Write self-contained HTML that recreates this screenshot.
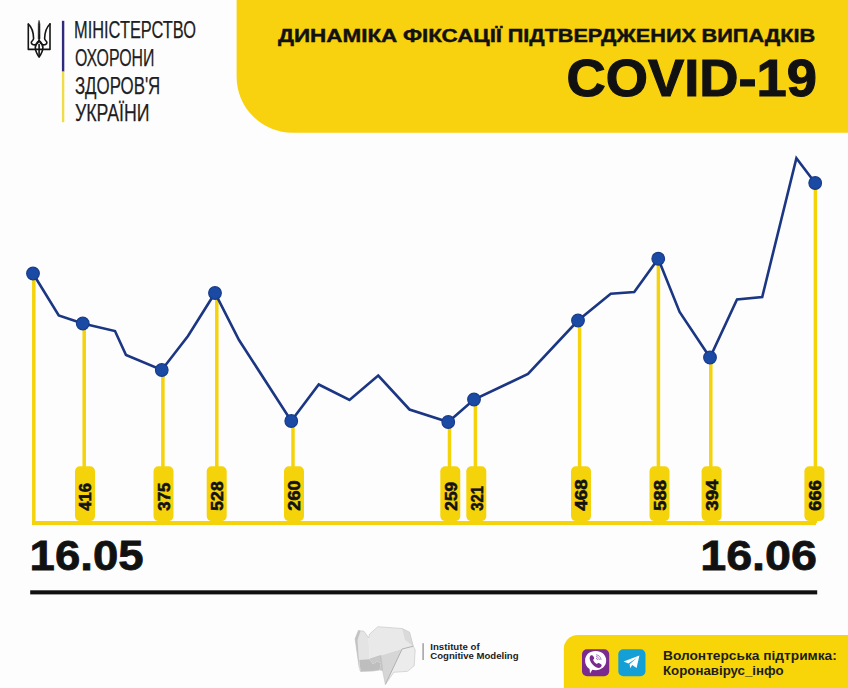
<!DOCTYPE html>
<html lang="uk">
<head>
<meta charset="utf-8">
<title>Динаміка фіксації підтверджених випадків COVID-19</title>
<style>
html,body{margin:0;padding:0;background:#FEFDFE;}
body{width:848px;height:688px;overflow:hidden;position:relative;font-family:"Liberation Sans",Arial,sans-serif;}
svg{position:absolute;left:0;top:0;display:block;}
</style>
</head>
<body>
<svg width="848" height="688" viewBox="0 0 848 688">
  <rect x="0" y="0" width="848" height="688" fill="#FEFDFE"/>

  <!-- header yellow panel -->
  <path d="M236.6,0 H848 V132.7 H292.6 A56,56 0 0 1 236.6,76.7 Z" fill="#F8D10F"/>

  <!-- ministry logo -->
  <g id="trident" fill="none" stroke="#151515" stroke-width="1.6" stroke-linejoin="round" stroke-linecap="round">
    <path d="M28.3,24.1 V49.4 H50 V23.9"/>
    <path d="M28.4,24.2 C31,26.5 33.4,32 33.6,38.6 C33.6,40.4 31.2,41 31.3,42.6 C31.4,44.4 33.6,45.2 35.4,44.8 C37,44.4 38.2,42.4 39.1,40.6"/>
    <path d="M49.9,24 C47.3,26.5 44.8,32 44.6,38.6 C44.6,40.4 47,41 46.9,42.6 C46.8,44.4 44.6,45.2 42.8,44.8 C41.2,44.4 40,42.4 39.1,40.6"/>
    <path d="M39.1,20.7 L39.9,24 L40,38.6 L39.1,40.6 L38.2,38.6 L38.3,24 Z" fill="#151515" stroke-width="0.6"/>
    <path d="M39.1,40.6 C36.8,42.6 35.3,45 35.3,47.5 C35.3,51 37,54 39.1,57.1 C41.2,54 42.9,51 42.9,47.5 C42.9,45 41.4,42.6 39.1,40.6 Z"/>
    <path d="M39.1,44.6 V55.5"/>
  </g>
  <rect x="61.9" y="20.8" width="2.4" height="50.8" fill="#2F2A7C"/>
  <rect x="61.9" y="71.6" width="2.4" height="50.6" fill="#EEDC48"/>
  <g font-family="Liberation Sans, Arial, sans-serif" font-size="24" fill="#1e1e1e" stroke="#1e1e1e" stroke-width="0.25">
    <text x="74" y="38.4" textLength="122" lengthAdjust="spacingAndGlyphs">МІНІСТЕРСТВО</text>
    <text x="74.9" y="66" textLength="79.6" lengthAdjust="spacingAndGlyphs">ОХОРОНИ</text>
    <text x="74.9" y="93.5" textLength="85.4" lengthAdjust="spacingAndGlyphs">ЗДОРОВ'Я</text>
    <text x="74.9" y="121" textLength="74.6" lengthAdjust="spacingAndGlyphs">УКРАЇНИ</text>
  </g>

  <!-- header titles -->
  <g font-size="18.9" font-weight="bold" fill="#111" stroke="#111" stroke-width="0.45">
    <text x="278.00" y="42.1" textLength="119.28" lengthAdjust="spacingAndGlyphs">ДИНАМІКА</text>
    <text x="402.94" y="42.1" textLength="99.11" lengthAdjust="spacingAndGlyphs">ФІКСАЦІЇ</text>
    <text x="507.70" y="42.1" textLength="188.16" lengthAdjust="spacingAndGlyphs">ПІДТВЕРДЖЕНИХ</text>
    <text x="701.50" y="42.1" textLength="113.80" lengthAdjust="spacingAndGlyphs">ВИПАДКІВ</text>
  </g>
  <text x="566.6" y="95.6" font-size="51.6" font-weight="bold" fill="#111" stroke="#111" stroke-width="1.1" textLength="250.4" lengthAdjust="spacingAndGlyphs">COVID-19</text>

  <!-- chart -->
  <g id="chart">
    <rect x="32.05" y="273.50" width="3.5" height="249.50" fill="#F5D30B"/>
    <rect x="82.45" y="323.50" width="3.5" height="199.50" fill="#F5D30B"/>
    <rect x="161.15" y="370.00" width="3.5" height="153.00" fill="#F5D30B"/>
    <rect x="215.05" y="293.00" width="3.5" height="230.00" fill="#F5D30B"/>
    <rect x="291.25" y="421.00" width="3.5" height="102.00" fill="#F5D30B"/>
    <rect x="447.75" y="422.00" width="3.5" height="101.00" fill="#F5D30B"/>
    <rect x="473.65" y="399.50" width="3.5" height="123.50" fill="#F5D30B"/>
    <rect x="577.85" y="320.50" width="3.5" height="202.50" fill="#F5D30B"/>
    <rect x="656.65" y="258.75" width="3.5" height="264.25" fill="#F5D30B"/>
    <rect x="709.05" y="357.50" width="3.5" height="165.50" fill="#F5D30B"/>
    <rect x="813.65" y="183.00" width="3.5" height="340.00" fill="#F5D30B"/>
    <rect x="32" y="521" width="784" height="4" fill="#F5D30B"/>
    <rect x="75.00" y="466.2" width="20" height="54.9" rx="5" ry="5" fill="#F5D30B"/>
    <rect x="153.50" y="466.2" width="20" height="54.9" rx="5" ry="5" fill="#F5D30B"/>
    <rect x="206.70" y="466.2" width="20" height="54.9" rx="5" ry="5" fill="#F5D30B"/>
    <rect x="284.00" y="466.2" width="20" height="54.9" rx="5" ry="5" fill="#F5D30B"/>
    <rect x="440.30" y="466.2" width="20" height="54.9" rx="5" ry="5" fill="#F5D30B"/>
    <rect x="466.30" y="466.2" width="20" height="54.9" rx="5" ry="5" fill="#F5D30B"/>
    <rect x="571.00" y="466.2" width="20" height="54.9" rx="5" ry="5" fill="#F5D30B"/>
    <rect x="649.50" y="466.2" width="20" height="54.9" rx="5" ry="5" fill="#F5D30B"/>
    <rect x="701.60" y="466.2" width="20" height="54.9" rx="5" ry="5" fill="#F5D30B"/>
    <rect x="804.40" y="466.2" width="20" height="54.9" rx="5" ry="5" fill="#F5D30B"/>
    <polyline points="33,273.5 58.75,315.5 82.75,323.5 115,331 126,355 161.75,370 188,336 215,293 239,340 291.25,421 318.75,384.5 349.5,400 378.25,375.5 409.5,409.5 448.25,422 474,399.5 528,374 578,320.5 610.75,293.75 634.25,292 658.25,258.75 679.6,312 710,357.5 737,299.5 762.2,297 796.4,158.2 815.2,183" fill="none" stroke="#1B3783" stroke-width="2.6" stroke-linejoin="miter" stroke-linecap="round"/>
    <circle cx="33" cy="273.5" r="6.35" fill="#1A4AA4" stroke="#183B89" stroke-width="1.1"/>
    <circle cx="82.75" cy="323.5" r="6.35" fill="#1A4AA4" stroke="#183B89" stroke-width="1.1"/>
    <circle cx="161.75" cy="370" r="6.35" fill="#1A4AA4" stroke="#183B89" stroke-width="1.1"/>
    <circle cx="215" cy="293" r="6.35" fill="#1A4AA4" stroke="#183B89" stroke-width="1.1"/>
    <circle cx="291.25" cy="421" r="6.35" fill="#1A4AA4" stroke="#183B89" stroke-width="1.1"/>
    <circle cx="448.25" cy="422" r="6.35" fill="#1A4AA4" stroke="#183B89" stroke-width="1.1"/>
    <circle cx="474" cy="399.5" r="6.35" fill="#1A4AA4" stroke="#183B89" stroke-width="1.1"/>
    <circle cx="578" cy="320.5" r="6.35" fill="#1A4AA4" stroke="#183B89" stroke-width="1.1"/>
    <circle cx="658.25" cy="258.75" r="6.35" fill="#1A4AA4" stroke="#183B89" stroke-width="1.1"/>
    <circle cx="710" cy="357.5" r="6.35" fill="#1A4AA4" stroke="#183B89" stroke-width="1.1"/>
    <circle cx="815.2" cy="183" r="6.35" fill="#1A4AA4" stroke="#183B89" stroke-width="1.1"/>
    <text transform="translate(91.30,510.7) rotate(-90)" font-size="16.6" font-weight="bold" fill="#121212" stroke="#121212" stroke-width="0.6" textLength="27.6" lengthAdjust="spacingAndGlyphs">416</text>
    <text transform="translate(169.80,510.7) rotate(-90)" font-size="16.6" font-weight="bold" fill="#121212" stroke="#121212" stroke-width="0.6" textLength="28.0" lengthAdjust="spacingAndGlyphs">375</text>
    <text transform="translate(223.00,510.7) rotate(-90)" font-size="16.6" font-weight="bold" fill="#121212" stroke="#121212" stroke-width="0.6" textLength="29.4" lengthAdjust="spacingAndGlyphs">528</text>
    <text transform="translate(300.30,510.7) rotate(-90)" font-size="16.6" font-weight="bold" fill="#121212" stroke="#121212" stroke-width="0.6" textLength="30.3" lengthAdjust="spacingAndGlyphs">260</text>
    <text transform="translate(456.60,510.7) rotate(-90)" font-size="16.6" font-weight="bold" fill="#121212" stroke="#121212" stroke-width="0.6" textLength="28.9" lengthAdjust="spacingAndGlyphs">259</text>
    <text transform="translate(482.60,510.7) rotate(-90)" font-size="16.6" font-weight="bold" fill="#121212" stroke="#121212" stroke-width="0.6" textLength="24.8" lengthAdjust="spacingAndGlyphs">321</text>
    <text transform="translate(587.30,510.7) rotate(-90)" font-size="16.6" font-weight="bold" fill="#121212" stroke="#121212" stroke-width="0.6" textLength="31.5" lengthAdjust="spacingAndGlyphs">468</text>
    <text transform="translate(665.80,510.7) rotate(-90)" font-size="16.6" font-weight="bold" fill="#121212" stroke="#121212" stroke-width="0.6" textLength="30.6" lengthAdjust="spacingAndGlyphs">588</text>
    <text transform="translate(717.90,510.7) rotate(-90)" font-size="16.6" font-weight="bold" fill="#121212" stroke="#121212" stroke-width="0.6" textLength="31.0" lengthAdjust="spacingAndGlyphs">394</text>
    <text transform="translate(820.70,510.7) rotate(-90)" font-size="16.6" font-weight="bold" fill="#121212" stroke="#121212" stroke-width="0.6" textLength="30.6" lengthAdjust="spacingAndGlyphs">666</text>

  </g>

  <!-- dates -->
  <text x="29.6" y="570.4" font-size="43.2" font-weight="bold" fill="#111" stroke="#111" stroke-width="0.8" textLength="114" lengthAdjust="spacingAndGlyphs">16.05</text>
  <text x="700.2" y="570.4" font-size="43.2" font-weight="bold" fill="#111" stroke="#111" stroke-width="0.8" textLength="116.8" lengthAdjust="spacingAndGlyphs">16.06</text>
  <rect x="30.2" y="590.3" width="787" height="4.1" fill="#111"/>

  <!-- footer -->
  <g id="icm">
    <polygon points="355.1,638.8 358.4,630.4 364,631.3 368.6,637.8 369.6,659.2 359.3,668.6" fill="#E4E4E4"/>
    <polygon points="355.1,638.8 358.4,630.4 360.5,631 357.5,640 359.3,668.6" fill="#C2C2C2"/>
    <polygon points="359.3,660 369.6,659.2 373,664 377,661.5 381,663 379.5,670 373,671 360.5,671.5" fill="#BEBEBE"/>
    <polygon points="369.6,659.2 380.7,655.5 382.6,670.4 379.5,670 381,663 377,661.5 373,664" fill="#C8C8C8"/>
    <polygon points="369.6,634.1 377.9,626.7 402.1,628.5 409.6,632.2 413.3,646.2 402.1,649 380.7,655.5 369.6,659.2 368.6,637.8" fill="#E9E9E9"/>
    <polygon points="402.1,628.5 409.6,632.2 413.3,646.2 405,640" fill="#DADADA"/>
    <polygon points="380.7,655.5 402.1,649 385.4,684.4 382.6,670.4" fill="#D6D6D6"/>
    <polygon points="402.1,649 413.3,646.2 415.2,650 414.2,665.8 407.7,671.3 393.8,672.3 385.4,684.4" fill="#ECECEC"/>
    <path d="M385.4,684.4 L402.1,649 L413.3,646.2" fill="none" stroke="#A9A9A9" stroke-width="0.9"/>
    <path d="M369.6,659.2 L380.7,655.5 L382.6,670.4" fill="none" stroke="#B4B4B4" stroke-width="0.7"/>
    <path d="M355.1,638.8 L358.4,630.4 L364,631.3 L368.6,637.8 L369.6,634.1 L377.9,626.7 L402.1,628.5 L409.6,632.2 L413.3,646.2 L415.2,650 L414.2,665.8 L407.7,671.3 L393.8,672.3 L385.4,684.4 L382.6,670.4 L379.5,670 L373,671 L360.5,671.5 L359.3,668.6 Z" fill="none" stroke="#C2C2C2" stroke-width="0.6"/>
    <rect x="422.4" y="643.2" width="1.4" height="16.8" fill="#9A9A9A"/>
    <text x="430.3" y="649.7" font-size="8.6" font-weight="bold" fill="#1b1b1b" textLength="49.3" lengthAdjust="spacingAndGlyphs">Institute of</text>
    <text x="430.3" y="659.2" font-size="8.6" font-weight="bold" fill="#1b1b1b" textLength="88.2" lengthAdjust="spacingAndGlyphs">Cognitive Modeling</text>
  </g>
  <path d="M577.8,635 H848 V688 H563.8 V649 A14,14 0 0 1 577.8,635 Z" fill="#F8D508"/>
  <g id="icons">
    <rect x="582" y="649.2" width="27.2" height="27" rx="5" ry="5" fill="#7B2A8E"/>
    <path d="M595.6,651 C601.5,651 606.2,654.8 606.2,660.6 C606.2,666.4 601.5,670.2 595.6,670.2 C594.3,670.2 593.3,670.1 592.3,669.8 L590,673.6 L589.6,669 C586.8,667.3 585.1,664.3 585.1,660.6 C585.1,654.8 589.7,651 595.6,651 Z" fill="#FFFFFF"/>
    <path d="M590.6,655.6 C591.4,654.9 592.5,655 593,655.8 L594,657.6 C594.4,658.3 594.1,659 593.5,659.4 L593.1,659.7 C593.6,661.6 595,663.2 597,664.1 L597.4,663.6 C597.8,663 598.6,662.8 599.3,663.2 L601,664.3 C601.8,664.8 601.9,665.9 601.2,666.6 L600.6,667.2 C599.5,668.2 597.8,668.1 596.2,667.2 C593.3,665.6 591.1,663.2 590,660.2 C589.4,658.5 589.6,656.6 590.6,655.6 Z" fill="#7B2A8E"/>
    <path d="M596.4,654.8 C598.9,655.1 600.8,657 601.1,659.6 M596.4,656.6 C597.9,656.9 599,658 599.3,659.6 M596.4,658.3 C597,658.5 597.4,658.9 597.5,659.6" fill="none" stroke="#9C6CB8" stroke-width="0.9" stroke-linecap="round"/>
    <rect x="618.3" y="649.2" width="27.2" height="27" rx="5" ry="5" fill="#14A0D6"/>
    <path d="M623.6,661.6 L639.4,655.6 L636.6,668 L632.2,665 L630.2,668.3 L629.6,664.2 L637,657.8 L628.4,663.4 Z" fill="#FFFFFF"/>
  </g>
  <text x="663" y="660.2" font-size="13.7" font-weight="bold" fill="#1d1d1b" textLength="173.8" lengthAdjust="spacingAndGlyphs">Волонтерська підтримка:</text>
  <text x="663" y="674.7" font-size="13.7" font-weight="bold" fill="#1d1d1b" textLength="120.6" lengthAdjust="spacingAndGlyphs">Коронавірус_інфо</text>
</svg>
</body>
</html>
